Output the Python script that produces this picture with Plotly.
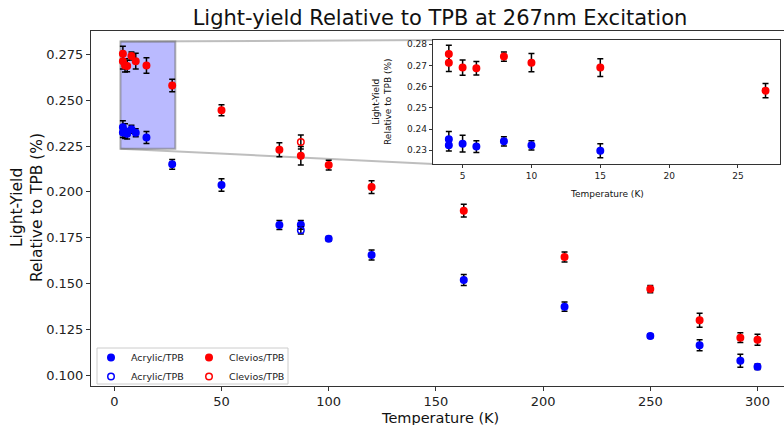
import plotly.graph_objects as go

# ---------------- data ----------------
acr_T = [4, 4, 5, 6, 8, 10, 15, 27, 50, 77, 87, 100, 120, 163, 210, 250, 273, 292, 300]
acr_LY = [0.2352, 0.2324, 0.2331, 0.2317, 0.2342, 0.2323, 0.2297, 0.2150, 0.2037, 0.1819,
          0.1820, 0.1744, 0.1655, 0.1519, 0.1373, 0.1213, 0.1162, 0.1078, 0.1045]
acr_err = [0.0036, 0.0028, 0.0040, 0.0028, 0.0022, 0.0022, 0.0033, 0.0027, 0.0034, 0.0024,
           0.0024, 0.0012, 0.0027, 0.0030, 0.0025, 0.0012, 0.0030, 0.0035, 0.0015]

acr_open_T = [87]
acr_open_LY = [0.1790]
acr_open_err = [0.0020]

clv_T = [4, 4, 5, 6, 8, 10, 15, 27, 50, 77, 87, 100, 120, 163, 210, 250, 273, 292, 300]
clv_LY = [0.2754, 0.2713, 0.2690, 0.2687, 0.2742, 0.2713, 0.2690, 0.2581, 0.2445, 0.2230,
          0.2197, 0.2146, 0.2026, 0.1897, 0.1644, 0.1469, 0.1299, 0.1204, 0.1193]
clv_err = [0.0041, 0.0042, 0.0036, 0.0032, 0.0022, 0.0043, 0.0042, 0.0034, 0.0030, 0.0038,
           0.0050, 0.0027, 0.0035, 0.0035, 0.0027, 0.0020, 0.0038, 0.0027, 0.0030]

clv_open_T = [87]
clv_open_LY = [0.2272]
clv_open_err = [0.0038]

x_ticks = [0, 50, 100, 150, 200, 250, 300]
inset_x_ticks = [5, 10, 15, 20, 25]

# ---------------- layout numbers ----------------
W, H = 784, 425
ML, MR, MT, MB = 91, 0, 31, 39
main_x = [-10.87, 312.36]
main_y = [0.0940, 0.2878]
ins_x = [2.87, 28.05]
ins_y = [0.2235, 0.2820]
ins_dom_x = [0.4939, 0.9942]
ins_dom_y = [0.6254, 0.9746]

FONT = "DejaVu Sans"
BLUE = "#0000ff"
RED = "#ff0000"

fig = go.Figure()


def err(arr):
    return dict(type="data", array=arr, visible=True, color="black", thickness=1.5, width=3)


def add(T, LY, E, color, name, open_=False, xa="x", ya="y", legend="legend", show=True):
    fig.add_trace(go.Scatter(
        x=T, y=LY, mode="markers", name=name, xaxis=xa, yaxis=ya,
        legend=legend, showlegend=show,
        marker=dict(symbol="circle-open" if open_ else "circle", size=6.5, color=color,
                    line=dict(width=1.5, color=color)),
        error_y=err(E),
    ))


# main axes: legend column 1 = Acrylic, column 2 = Clevios
add(acr_T, acr_LY, acr_err, BLUE, "Acrylic/TPB", legend="legend")
add(acr_open_T, acr_open_LY, acr_open_err, BLUE, "Acrylic/TPB", open_=True, legend="legend")
add(clv_T, clv_LY, clv_err, RED, "Clevios/TPB", legend="legend2")
add(clv_open_T, clv_open_LY, clv_open_err, RED, "Clevios/TPB", open_=True, legend="legend2")

# inset
add(acr_T, acr_LY, acr_err, BLUE, "Acrylic/TPB", xa="x2", ya="y2", show=False)
add(clv_T, clv_LY, clv_err, RED, "Clevios/TPB", xa="x2", ya="y2", show=False)


def dom_to_x(f):
    return main_x[0] + f * (main_x[1] - main_x[0])


def dom_to_y(f):
    return main_y[0] + f * (main_y[1] - main_y[0])


def px_x(p):  # pixel -> paper x
    return (p - ML) / (W - ML - MR)


def px_y(p):  # pixel -> paper y
    return (H - MB - p) / (H - MT - MB)


shapes = [
    dict(type="rect", xref="x", yref="y", x0=ins_x[0], x1=ins_x[1] + 0.4, y0=ins_y[0], y1=ins_y[1],
         fillcolor="rgba(0,0,255,0.27)", line=dict(color="rgba(110,110,110,0.55)", width=2), layer="below"),
    dict(type="line", xref="x", yref="y", x0=ins_x[0], y0=ins_y[1],
         x1=dom_to_x(ins_dom_x[0]), y1=dom_to_y(ins_dom_y[1]),
         line=dict(color="rgba(110,110,110,0.45)", width=2), layer="below"),
    dict(type="line", xref="x", yref="y", x0=ins_x[0], y0=ins_y[0],
         x1=dom_to_x(ins_dom_x[0]), y1=dom_to_y(ins_dom_y[0]),
         line=dict(color="rgba(110,110,110,0.45)", width=2), layer="below"),
    dict(type="rect", xref="x2 domain", yref="y2 domain", x0=0, x1=1, y0=0, y1=1,
         fillcolor="white", line=dict(width=0), layer="below"),
    dict(type="rect", xref="paper", yref="paper", x0=px_x(97), x1=px_x(288), y0=px_y(384), y1=px_y(348),
         fillcolor="rgba(255,255,255,0.8)", line=dict(color="#cccccc", width=1), layer="below"),
]

annotations = [
    dict(text="Temperature (K)", xref="paper", yref="paper", x=px_x(440), y=px_y(417.5),
         xanchor="center", yanchor="middle", showarrow=False, font=dict(size=14.5, family=FONT, color="#111111")),
    dict(text="Light-Yield<br>Relative to TPB (%)", xref="paper", yref="paper", x=px_x(27), y=px_y(208),
         xanchor="center", yanchor="middle", textangle=-90, showarrow=False,
         font=dict(size=15.5, family=FONT, color="#111111")),
    dict(text="Temperature (K)", xref="paper", yref="paper", x=px_x(607), y=px_y(194),
         xanchor="center", yanchor="middle", showarrow=False, font=dict(size=9, family=FONT, color="#111111")),
    dict(text="Light-Yield<br>Relative to TPB (%)", xref="paper", yref="paper", x=px_x(382), y=px_y(102),
         xanchor="center", yanchor="middle", textangle=-90, showarrow=False,
         font=dict(size=9, family=FONT, color="#111111")),
]

axis_common = dict(showgrid=False, zeroline=False, ticks="outside", showline=True, automargin=False,
                   linecolor="#333333", linewidth=1, tickcolor="#333333",
                   tickfont=dict(family=FONT, color="#222222"))

fig.update_layout(
    width=W, height=H,
    margin=dict(l=ML, r=MR, t=MT, b=MB, pad=0, autoexpand=False),
    paper_bgcolor="white", plot_bgcolor="white",
    font=dict(family=FONT, color="#111111"),
    title=dict(text="Light-yield Relative to TPB at 267nm Excitation",
               x=px_x(440), xref="paper", xanchor="center", y=1 - 17.5 / H, yref="container",
               yanchor="middle", font=dict(size=21, family=FONT, color="#111111")),
    xaxis=dict(**axis_common, range=main_x, domain=[0, 1], mirror=True,
               tickvals=x_ticks, ticklen=4, tickfont_size=13, ticklabelstandoff=-1),
    yaxis=dict(**axis_common, range=main_y, domain=[0, 1], dtick=0.025, tick0=0.1,
               tickformat=".3f", ticklen=4, tickfont_size=13),
    xaxis2=dict(**axis_common, range=ins_x, domain=ins_dom_x, anchor="y2", mirror=True,
                tickvals=inset_x_ticks, ticklen=3.5, tickfont_size=9),
    yaxis2=dict(**axis_common, range=ins_y, domain=ins_dom_y, anchor="x2", mirror=True,
                dtick=0.01, tick0=0.23, tickformat=".2f", ticklen=3.5, tickfont_size=9),
    legend=dict(x=0.0, y=px_y(343), xanchor="left", yanchor="top", bgcolor="rgba(0,0,0,0)",
                font=dict(size=9.5, family=FONT, color="#222222"), tracegroupgap=0,
                itemwidth=30),
    legend2=dict(x=px_x(189), y=px_y(343), xanchor="left", yanchor="top", bgcolor="rgba(0,0,0,0)",
                 font=dict(size=9.5, family=FONT, color="#222222"), tracegroupgap=0,
                 itemwidth=30),
    shapes=shapes,
    annotations=annotations,
)

fig.write_html("out.html", config={"displayModeBar": False},
               post_script="document.body.style.margin='0';document.body.style.overflow='hidden';")
